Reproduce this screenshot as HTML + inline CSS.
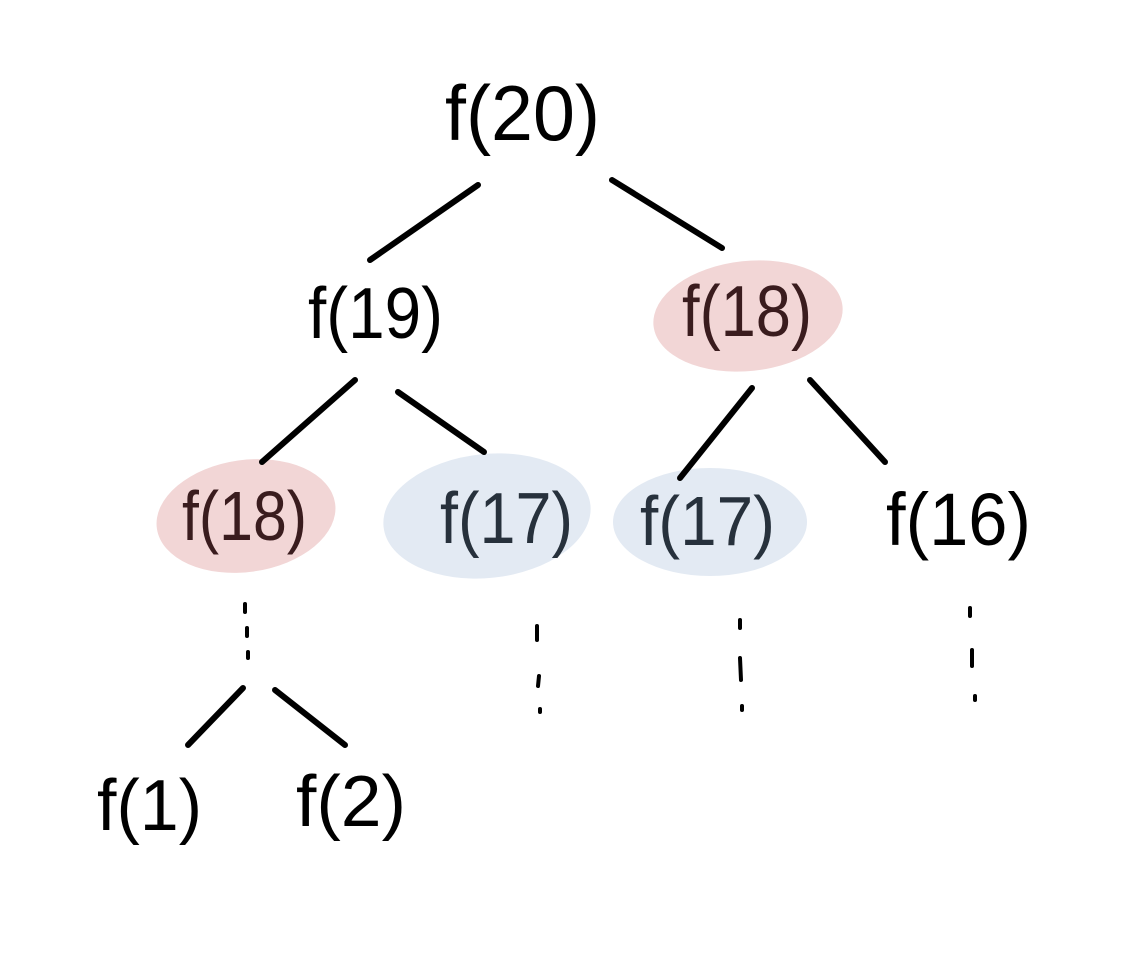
<!DOCTYPE html>
<html>
<head>
<meta charset="utf-8">
<style>
  html,body{margin:0;padding:0;background:#fff;}
  svg{display:block;}
  text{font-family:"Liberation Sans",sans-serif;font-weight:normal;}
</style>
</head>
<body>
<svg width="1139" height="961" viewBox="0 0 1139 961">
  <!-- highlight blobs -->
  <ellipse cx="748" cy="316" rx="95" ry="55" fill="#f2d6d6" transform="rotate(-6 748 316)"/>
  <ellipse cx="246" cy="516" rx="90" ry="56" fill="#f2d6d6" transform="rotate(-8 246 516)"/>
  <ellipse cx="487" cy="516" rx="104" ry="62" fill="#e3eaf3" transform="rotate(-6 487 516)"/>
  <ellipse cx="710" cy="522" rx="97" ry="54" fill="#e3eaf3"/>

  <!-- edges -->
  <g stroke="#000" stroke-width="6" stroke-linecap="round" fill="none">
    <line x1="478" y1="185" x2="370" y2="260"/>
    <line x1="612" y1="180" x2="722" y2="248"/>
    <line x1="355" y1="380" x2="262" y2="462"/>
    <line x1="398" y1="392" x2="484" y2="452"/>
    <line x1="752" y1="388" x2="680" y2="478"/>
    <line x1="810" y1="380" x2="885" y2="462"/>
    <line x1="243" y1="688" x2="188" y2="745"/>
    <line x1="275" y1="690" x2="345" y2="745"/>
  </g>

  <!-- ellipsis dots -->
  <g stroke="#000" stroke-width="4" stroke-linecap="round">
    <line x1="245" y1="604" x2="245" y2="612"/>
    <line x1="247" y1="628" x2="247" y2="636"/>
    <line x1="248" y1="652" x2="248" y2="658"/>
    <line x1="537" y1="626" x2="537" y2="640"/>
    <line x1="539" y1="676" x2="538" y2="686"/>
    <line x1="540" y1="709" x2="540" y2="712"/>
    <line x1="740" y1="620" x2="740" y2="628"/>
    <line x1="740" y1="658" x2="741" y2="680"/>
    <line x1="742" y1="706" x2="742" y2="710"/>
    <line x1="970" y1="608" x2="970" y2="616"/>
    <line x1="972" y1="650" x2="972" y2="666"/>
    <line x1="975" y1="696" x2="975" y2="700"/>
  </g>

  <!-- node labels -->
  <text x="445" y="140" font-size="78" textLength="155" lengthAdjust="spacingAndGlyphs" fill="#000">f(20)</text>
  <text x="308" y="338" font-size="72" textLength="135" lengthAdjust="spacingAndGlyphs" fill="#000">f(19)</text>
  <text x="682" y="336" font-size="72" textLength="130" lengthAdjust="spacingAndGlyphs" fill="#3a1c1e">f(18)</text>
  <text x="182" y="540" font-size="70" textLength="125" lengthAdjust="spacingAndGlyphs" fill="#3a1c1e">f(18)</text>
  <text x="440" y="543" font-size="72" textLength="133" lengthAdjust="spacingAndGlyphs" fill="#27313c">f(17)</text>
  <text x="640" y="545" font-size="70" textLength="135" lengthAdjust="spacingAndGlyphs" fill="#27313c">f(17)</text>
  <text x="886" y="545" font-size="74" textLength="145" lengthAdjust="spacingAndGlyphs" fill="#000">f(16)</text>
  <text x="97" y="830" font-size="72" textLength="105" lengthAdjust="spacingAndGlyphs" fill="#000">f(1)</text>
  <text x="296" y="826" font-size="72" textLength="110" lengthAdjust="spacingAndGlyphs" fill="#000">f(2)</text>
</svg>
</body>
</html>
